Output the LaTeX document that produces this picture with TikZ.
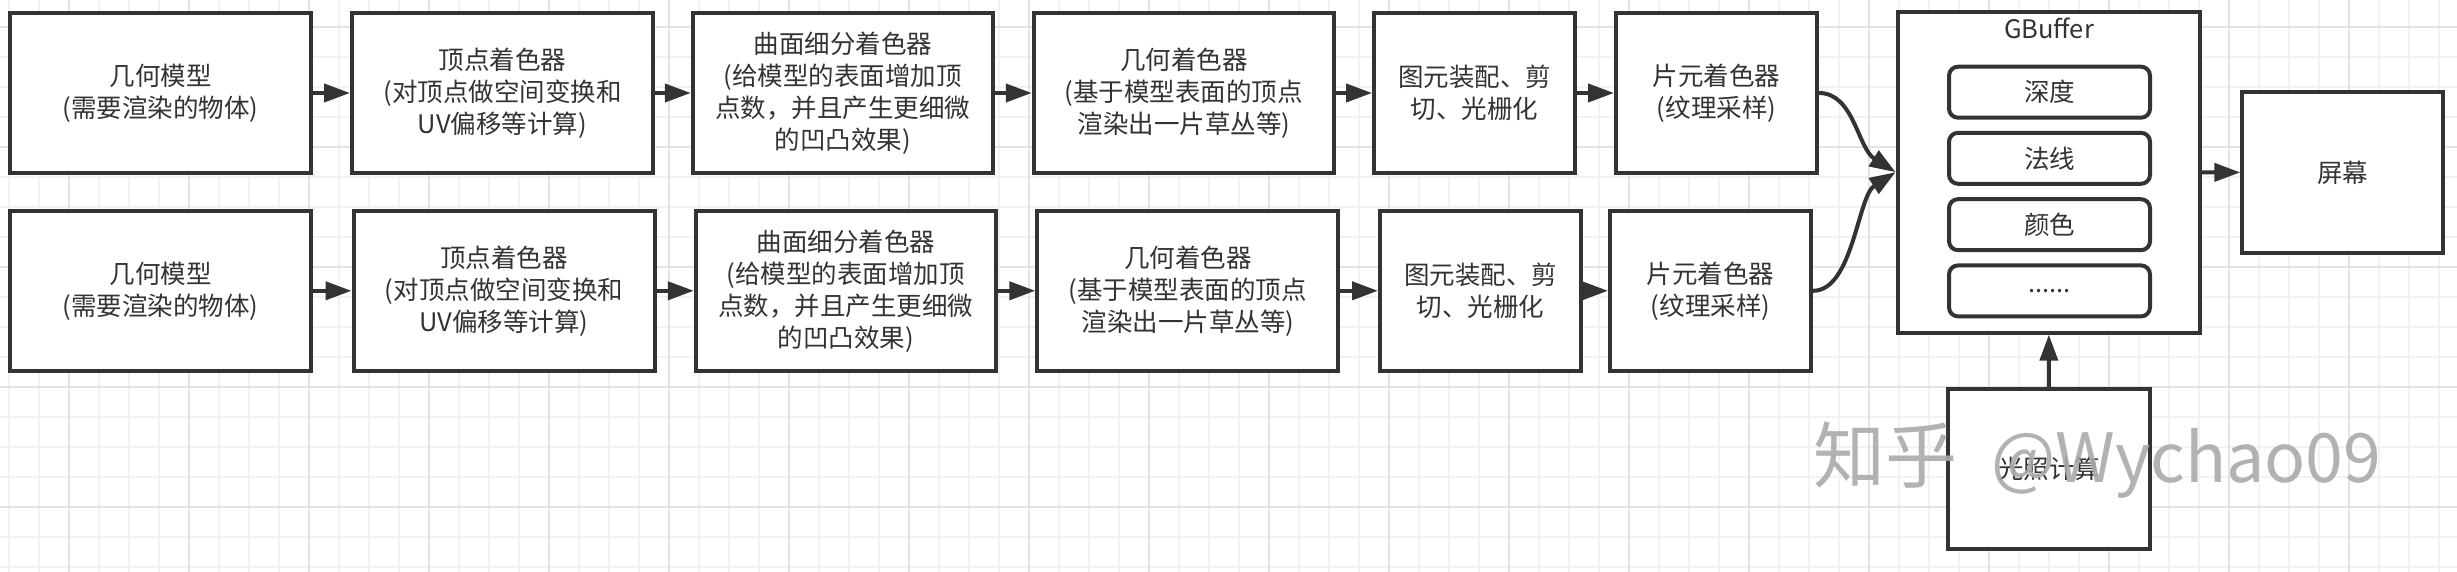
\documentclass[tikz,border=0pt]{standalone}
\usepackage{fontspec}
\setmainfont{Noto Sans CJK SC}
\usetikzlibrary{arrows.meta}
\definecolor{ln}{HTML}{333333}
\definecolor{gmin}{HTML}{F2F2F2}
\definecolor{gmaj}{HTML}{E4E4E4}
\definecolor{wm}{HTML}{AAAAAA}
\begin{document}
\begin{tikzpicture}[x=1pt,y=-1pt,
  box/.style={draw=ln, line width=4pt, fill=white, align=center, inner sep=2pt,
    text=ln, font=\fontsize{25.5}{32}\selectfont, minimum height=160pt},
  wide/.style={box, minimum width=301pt},
  narrow/.style={box, minimum width=201pt},
  slot/.style={draw=ln, line width=4pt, fill=white, rounded corners=9pt, text=ln,
    font=\fontsize{25.5}{32}\selectfont, minimum width=201pt, minimum height=51pt},
  conn/.style={draw=ln, line width=4pt, -{Triangle[length=26pt,width=18pt]}}]
\useasboundingbox (0,0) rectangle (2457,572);
\fill[white] (0,0) rectangle (2457,572);
% grid
\foreach \gx in {9,39,...,2457} \draw[gmin, line width=1.3pt] (\gx,0) -- (\gx,572);
\foreach \gy in {-3,27,...,572} \draw[gmin, line width=1.3pt] (0,\gy) -- (2457,\gy);
\foreach \gx in {69,189,...,2457} \draw[gmaj, line width=1.5pt] (\gx,0) -- (\gx,572);
\foreach \gy in {27,147,...,572} \draw[gmaj, line width=1.5pt] (0,\gy) -- (2457,\gy);
% row 1
\node[wide] (a1) at (160.5,93) {几何模型\\(需要渲染的物体)};
\node[wide] (a2) at (502.5,93) {顶点着色器\\ (对顶点做空间变换和\\UV偏移等计算)};
\node[wide, minimum width=300pt] (a3) at (842.8,93) {曲面细分着色器\\ (给模型的表面增加顶\\点数，并且产生更细微\\的凹凸效果)};
\node[wide, minimum width=300pt] (a4) at (1183.8,93) {几何着色器\\ (基于模型表面的顶点\\渲染出一片草丛等)};
\node[narrow] (a5) at (1474.5,93) {图元装配、剪\\切、光栅化};
\node[narrow] (a6) at (1716.5,93) {片元着色器\\(纹理采样)};
% row 2
\node[wide] (b1) at (160.5,290.8) {几何模型\\(需要渲染的物体)};
\node[wide] (b2) at (504,290.8) {顶点着色器\\ (对顶点做空间变换和\\UV偏移等计算)};
\node[wide, minimum width=300pt] (b3) at (845.8,290.8) {曲面细分着色器\\ (给模型的表面增加顶\\点数，并且产生更细微\\的凹凸效果)};
\node[wide] (b4) at (1187.8,290.8) {几何着色器\\ (基于模型表面的顶点\\渲染出一片草丛等)};
\node[narrow] (b5) at (1480.5,290.8) {图元装配、剪\\切、光栅化};
\node[narrow] (b6) at (1710.5,290.8) {片元着色器\\(纹理采样)};
% GBuffer
\node[box, minimum width=302pt, minimum height=321pt] (gb) at (2048.6,172.2) {};
\node[text=ln, font=\fontsize{25.5}{32}\selectfont, inner sep=0pt] (gbt) at (2049,28) {GBuffer};
\node[slot] (s1) at (2049.5,92.2) {深度};
\node[slot] (s2) at (2049.5,158.3) {法线};
\node[slot] (s3) at (2049.5,224.7) {颜色};
\node[slot] (s4) at (2049.5,290.9) {......};
% screen and lighting
\node[narrow, minimum height=161.6pt] (scr) at (2342.8,172.5) {屏幕};
\node[narrow, minimum width=202pt] (lit) at (2049,469) {光照计算};
% connectors
\draw[conn] (a1) -- (a2);
\draw[conn] (a2) -- (a3);
\draw[conn] (a3) -- (a4);
\draw[conn] (a4) -- (a5);
\draw[conn] (a5) -- (a6);
\draw[conn] (b1) -- (b2);
\draw[conn] (b2) -- (b3);
\draw[conn] (b3) -- (b4);
\draw[conn] (b4) -- (b5);
\draw[conn] (b5) -- (b6);
\draw[conn] (a6.east) .. controls +(35,0) and +(-38,-24) .. (gb.west);
\draw[conn] (b6.east) .. controls +(40,0) and +(-38,24) .. (gb.west);
\draw[conn] (gb) -- (scr);
\draw[conn] (lit) -- (gb);
% watermark
\node[anchor=west, text=wm, opacity=0.9, inner sep=0pt] (wmk) at (1813,460)
  {\fontsize{72}{72}\selectfont 知乎\hspace{34pt}\fontsize{68}{68}\selectfont @Wychao09};
\end{tikzpicture}
\end{document}
